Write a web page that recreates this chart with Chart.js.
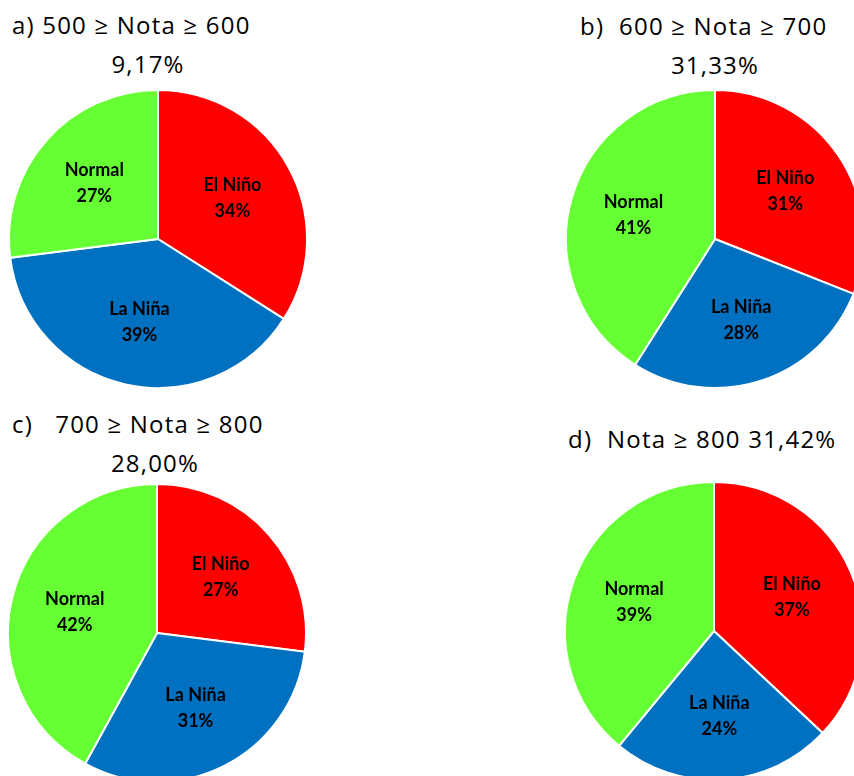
<!DOCTYPE html>
<html>
<head>
<meta charset="utf-8">
<script src="https://cdn.jsdelivr.net/npm/chart.js@4/dist/chart.umd.min.js"></script>
<style>
  html, body { margin: 0; padding: 0; background: #fff; }
  body { width: 854px; height: 776px; overflow: hidden; position: relative; }
  .title { position: absolute; font-family: "Open Sans", "Noto Sans", sans-serif; font-size: 24px; letter-spacing: 1.2px; color: #000; white-space: pre; line-height: 1; }
  .share { position: absolute; width: 200px; text-align: center; }
  .panel { position: absolute; width: 300px; height: 300px; }
</style>
</head>
<body>
<div class="title" style="left:12px; top:13px;">a) 500 ≥ Nota ≥ 600</div>
<div class="title share" style="left:48px; top:52px;">9,17%</div>
<div class="title" style="left:580px; top:14px;">b)  600 ≥ Nota ≥ 700</div>
<div class="title share" style="left:615px; top:53px;">31,33%</div>
<div class="title" style="left:12px; top:412px;">c)   700 ≥ Nota ≥ 800</div>
<div class="title share" style="left:55px; top:451px;">28,00%</div>
<div class="title" style="left:568px; top:427px;">d)  Nota ≥ 800 31,42%</div>

<div class="panel" style="left:8px; top:89px;"><canvas id="pieA" width="300" height="300"></canvas></div>
<div class="panel" style="left:565px; top:89px;"><canvas id="pieB" width="300" height="300"></canvas></div>
<div class="panel" style="left:7px; top:483px;"><canvas id="pieC" width="300" height="300"></canvas></div>
<div class="panel" style="left:564px; top:481px;"><canvas id="pieD" width="300" height="300"></canvas></div>

<script>
// ENSO phases and their share (%) in each score band
const categories = ['El Niño', 'La Niña', 'Normal'];
const band500to600 = [34, 39, 27];
const band600to700 = [31, 28, 41];
const band700to800 = [27, 31, 42];
const band800plus  = [37, 24, 39];

const phaseColors = ['#FF0000', '#0070C0', '#66FF33'];

// Draws "name / value%" inside each slice along its mid-angle
const sliceLabels = {
  id: 'sliceLabels',
  afterDatasetsDraw(chart) {
    const ctx = chart.ctx;
    const meta = chart.getDatasetMeta(0);
    const values = chart.data.datasets[0].data;
    ctx.save();
    ctx.fillStyle = '#000';
    ctx.textAlign = 'center';
    ctx.textBaseline = 'middle';
    ctx.font = 'bold 18px Lato, "Open Sans", sans-serif';
    meta.data.forEach((arc, i) => {
      const p = arc.getProps(['x', 'y', 'startAngle', 'endAngle', 'outerRadius'], true);
      const mid = (p.startAngle + p.endAngle) / 2;
      const r = p.outerRadius * 0.57;
      const cx = p.x + Math.cos(mid) * r;
      const cy = p.y + Math.sin(mid) * r;
      ctx.fillText(chart.data.labels[i], cx, cy - 13);
      ctx.fillText(values[i] + '%', cx, cy + 13);
    });
    ctx.restore();
  }
};

function drawPie(id, values) {
  new Chart(document.getElementById(id), {
    type: 'pie',
    data: {
      labels: categories,
      datasets: [{
        data: values,
        backgroundColor: phaseColors,
        borderColor: '#FFFFFF',
        borderWidth: 2
      }]
    },
    options: {
      responsive: false,
      animation: false,
      layout: { padding: 0 },
      plugins: { legend: { display: false }, tooltip: { enabled: false } }
    },
    plugins: [sliceLabels]
  });
}

drawPie('pieA', band500to600);
drawPie('pieB', band600to700);
drawPie('pieC', band700to800);
drawPie('pieD', band800plus);
</script>
</body>
</html>
